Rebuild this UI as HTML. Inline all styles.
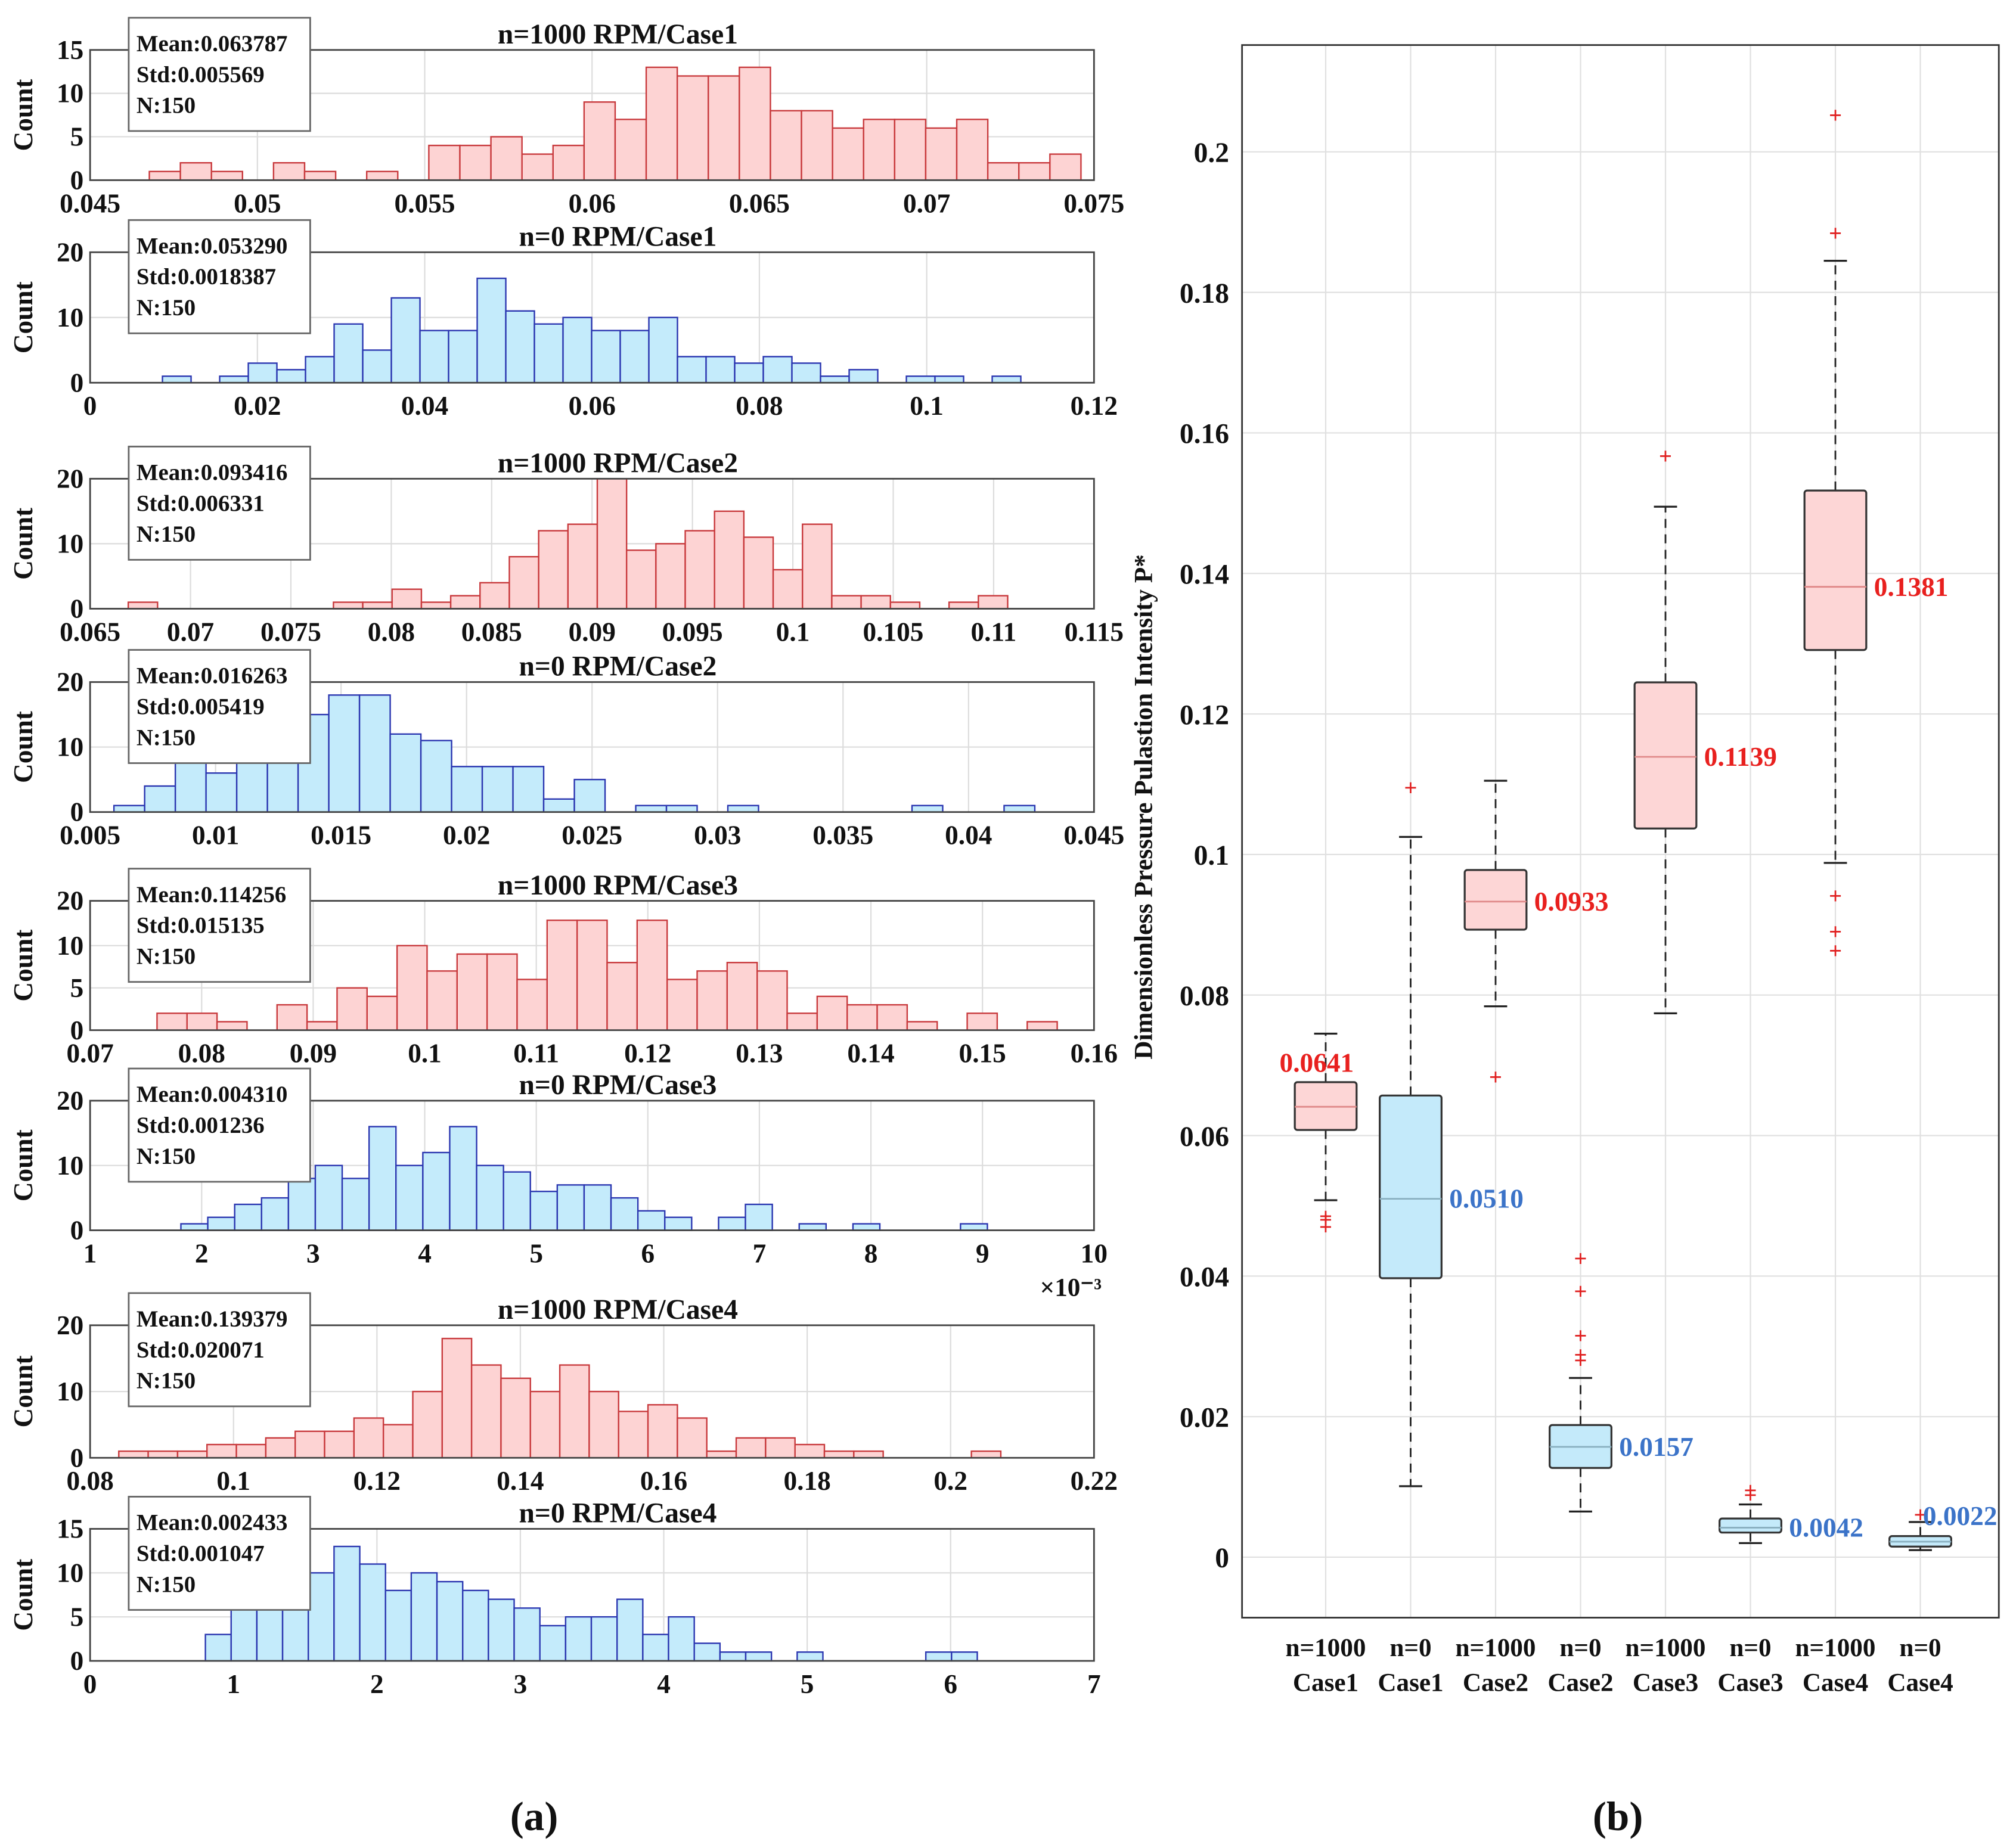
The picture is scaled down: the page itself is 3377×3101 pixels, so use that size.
<!DOCTYPE html>
<html><head><meta charset="utf-8"><style>
html,body{margin:0;padding:0;background:#fff}
svg{display:block}
text{font-family:"Liberation Serif",serif;font-weight:bold}
text:not([fill]){fill:#111}
</style></head><body>
<svg id="fig" width="3377" height="3101" viewBox="0 0 1564 1436" preserveAspectRatio="none" xmlns="http://www.w3.org/2000/svg">
<rect width="1564" height="1436" fill="#fff"/>
<g id="hists"></g>
<g id="box"></g>
<text x="415" y="1422" font-size="32" text-anchor="middle" font-weight="normal">(<tspan font-weight="bold">a</tspan>)</text>
<text x="1257" y="1422" font-size="32" text-anchor="middle" font-weight="normal">(<tspan font-weight="bold">b</tspan>)</text>
</svg>
<script>
// ---- histogram data ----
const titles=["n=1000 RPM/Case1","n=0 RPM/Case1","n=1000 RPM/Case2","n=0 RPM/Case2","n=1000 RPM/Case3","n=0 RPM/Case3","n=1000 RPM/Case4","n=0 RPM/Case4"];
const statMeans=["0.063787","0.053290","0.093416","0.016263","0.114256","0.004310","0.139379","0.002433"];
const statStds=["0.005569","0.0018387","0.006331","0.005419","0.015135","0.001236","0.020071","0.001047"];
const statN=["150","150","150","150","150","150","150","150"];
const counts1=[1,2,1,0,2,1,0,1,0,4,4,5,3,4,9,7,13,12,12,13,8,8,6,7,7,6,7,2,2,3];
const counts2=[1,0,1,3,2,4,9,5,13,8,8,16,11,9,10,8,8,10,4,4,3,4,3,1,2,0,1,1,0,1];
const counts3=[1,0,0,0,0,0,0,1,1,3,1,2,4,8,12,13,20,9,10,12,15,11,6,13,2,2,1,0,1,2];
const counts4=[1,4,10,6,11,11,15,18,18,12,11,7,7,7,2,5,0,1,1,0,1,0,0,0,0,0,1,0,0,1];
const counts5=[2,2,1,0,3,1,5,4,10,7,9,9,6,13,13,8,13,6,7,8,7,2,4,3,3,1,0,2,0,1];
const counts6=[1,2,4,5,8,10,8,16,10,12,16,10,9,6,7,7,5,3,2,0,2,4,0,1,0,1,0,0,0,1];
const counts7=[1,1,1,2,2,3,4,4,6,5,10,18,14,12,10,14,10,7,8,6,1,3,3,2,1,1,0,0,0,1];
const counts8=[3,9,10,10,10,13,11,8,10,9,8,7,6,4,5,5,7,3,5,2,1,1,0,1,0,0,0,0,1,1];
const binStarts=[0.04677,0.00865,0.0669,0.00595,0.076,1.814,0.084,0.804];
const binWidths=[0.000928,0.00342,0.00146,0.001223,0.00269,0.241,0.0041,0.1794];
const xMins=[0.045,0,0.065,0.005,0.07,1,0.08,0];
const xMaxs=[0.075,0.12,0.115,0.045,0.16,10,0.22,7];
const xTicks1=["0.045","0.05","0.055","0.06","0.065","0.07","0.075"];
const xTicks2=["0","0.02","0.04","0.06","0.08","0.1","0.12"];
const xTicks3=["0.065","0.07","0.075","0.08","0.085","0.09","0.095","0.1","0.105","0.11","0.115"];
const xTicks4=["0.005","0.01","0.015","0.02","0.025","0.03","0.035","0.04","0.045"];
const xTicks5=["0.07","0.08","0.09","0.1","0.11","0.12","0.13","0.14","0.15","0.16"];
const xTicks6=["1","2","3","4","5","6","7","8","9","10"];
const xTicks7=["0.08","0.1","0.12","0.14","0.16","0.18","0.2","0.22"];
const xTicks8=["0","1","2","3","4","5","6","7"];
const yMaxs=[15,20,20,20,15.3,20,20,15];
const yTickVals1=[0,5,10,15],yTickVals2=[0,10,20],yTickVals5=[0,5,10,15.3];
const yTickLabs1=["0","5","10","15"],yTickLabs2=["0","10","20"],yTickLabs5=["0","5","10","20"];
const allCounts=[counts1,counts2,counts3,counts4,counts5,counts6,counts7,counts8];
const allXT=[xTicks1,xTicks2,xTicks3,xTicks4,xTicks5,xTicks6,xTicks7,xTicks8];
const allYV=[yTickVals1,yTickVals2,yTickVals2,yTickVals2,yTickVals5,yTickVals2,yTickVals2,yTickVals1];
const allYL=[yTickLabs1,yTickLabs2,yTickLabs2,yTickLabs2,yTickLabs5,yTickLabs2,yTickLabs2,yTickLabs1];
const panelTops=[38.8,196,372,530,700,855.3,1029.8,1188];
const panelBots=[140,297.4,473,631,800.5,956,1132.8,1290.6];
const PL=70,PR=850;
const NS="http://www.w3.org/2000/svg";
function mk(tag,attrs,parent,txt){const e=document.createElementNS(NS,tag);for(const k in attrs)e.setAttribute(k,attrs[k]);if(txt!==undefined)e.textContent=txt;parent.appendChild(e);return e;}
const H=document.getElementById('hists');
for(let p=0;p<8;p++){
  const g=mk('g',{},H);
  
  
  const top=panelTops[p],bot=panelBots[p];
  const sx=v=>PL+(v-xMins[p])/(xMaxs[p]-xMins[p])*(PR-PL);
  const sy=v=>bot-v/yMaxs[p]*(bot-top);
  const red=p%2===0;
  allXT[p].forEach(t=>{const x=sx(parseFloat(t));const l=mk('line',{x1:x,x2:x,y1:top,y2:bot,stroke:'#dcdcdc','stroke-width':1},g);
    });
  allYV[p].forEach(v=>{const y=sy(v);const l=mk('line',{x1:PL,x2:PR,y1:y,y2:y,stroke:'#dcdcdc','stroke-width':1},g);
    });
  allCounts[p].forEach((c,i)=>{if(c<=0)return;const x0=sx(binStarts[p]+i*binWidths[p]),x1=sx(binStarts[p]+(i+1)*binWidths[p]);
    const r=mk('rect',{x:x0,y:sy(c),width:x1-x0,height:bot-sy(c),fill:red?'#fdd3d3':'#c4ebfb',stroke:red?'#c8393c':'#2a35b0','stroke-width':1.1},g);
    });
  const f=mk('rect',{x:PL,y:top,width:PR-PL,height:bot-top,fill:'none',stroke:'#444','stroke-width':1.3},g);
  
  allXT[p].forEach(t=>{const tx=mk('text',{x:sx(parseFloat(t)),y:bot+25,'font-size':21,'text-anchor':'middle'},g,t);
    });
  allYV[p].forEach((v,i)=>{const tx=mk('text',{x:PL-5,y:sy(v)+7,'font-size':21,'text-anchor':'end'},g,allYL[p][i]);
    });
  const cy=(top+bot)/2;
  const yt=mk('text',{x:0,y:0,'font-size':21,'text-anchor':'middle',transform:`translate(25,${cy}) rotate(-90)`},g,'Count');
  
  const tt=mk('text',{x:480,y:top-5,'font-size':22,'text-anchor':'middle'},g,titles[p]);
  
  const bg=mk('g',{},g);
  
  mk('rect',{x:100,y:top-25,width:141,height:88,fill:'#fff',stroke:'#666','stroke-width':1.3},bg);
  mk('text',{x:106,y:top+1,'font-size':18},bg,'Mean:'+statMeans[p]);
  mk('text',{x:106,y:top+25,'font-size':18},bg,'Std:'+statStds[p]);
  mk('text',{x:106,y:top+49,'font-size':18},bg,'N:'+statN[p]);
  if(p===5){const e=mk('text',{x:808,y:1007,'font-size':20,'font-weight':'normal'},g,'×10⁻³');
    }
}

// ---- boxplot data ----
const boxCats1=["n=1000","n=0","n=1000","n=0","n=1000","n=0","n=1000","n=0"];
const boxCats2=["Case1","Case1","Case2","Case2","Case3","Case3","Case4","Case4"];
const q1s=[0.0608,0.0397,0.0893,0.0127,0.1037,0.0035,0.1291,0.0015];
const q3s=[0.0676,0.0657,0.0978,0.0188,0.1245,0.0055,0.1518,0.0030];
const medians=[0.0641,0.0510,0.0933,0.0157,0.1139,0.0042,0.1381,0.0022];
const whiskLo=[0.0508,0.0101,0.0784,0.0065,0.0774,0.0020,0.0988,0.0010];
const whiskHi=[0.0745,0.1025,0.1105,0.0255,0.1495,0.0075,0.1845,0.0050];
const outliers=[[0.0485,0.0480,0.0470],[0.1095],[0.0683],[0.0425,0.0378,0.0315,0.0288,0.0280],[0.1567],[0.0088,0.0095],[0.2052,0.1884,0.0941,0.0890,0.0863],[0.0060]];
const medLabels=["0.0641","0.0510","0.0933","0.0157","0.1139","0.0042","0.1381","0.0022"];
const bTicks=[0,0.02,0.04,0.06,0.08,0.1,0.12,0.14,0.16,0.18,0.2];
const bTickLabs=["0","0.02","0.04","0.06","0.08","0.1","0.12","0.14","0.16","0.18","0.2"];
const B=document.getElementById('box');
const BL=965,BR=1553,BT=35,BB=1257;
const by=v=>1210-v*5460;
const bx=i=>1030+i*66;
bTicks.forEach((v,i)=>{const l=mk('line',{x1:BL,x2:BR,y1:by(v),y2:by(v),stroke:'#e0e0e0','stroke-width':1},B);
  
  const t=mk('text',{x:BL-10,y:by(v)+8,'font-size':22,'text-anchor':'end'},B,bTickLabs[i]);
  });
boxCats1.forEach((c,i)=>{const x=bx(i);
  const l=mk('line',{x1:x,x2:x,y1:BT,y2:BB,stroke:'#e0e0e0','stroke-width':1},B);
  
  const t1=mk('text',{x:x,y:1287,'font-size':20,'text-anchor':'middle'},B,c);
  
  const t2=mk('text',{x:x,y:1314,'font-size':20,'text-anchor':'middle'},B,boxCats2[i]);
  });
const fr=mk('rect',{x:BL,y:BT,width:BR-BL,height:BB-BT,fill:'none',stroke:'#333','stroke-width':1.3},B);

boxCats1.forEach((c,i)=>{
  const red=i%2===0,x=bx(i),w=24;
  const g=mk('g',{},B);
  
  mk('line',{x1:x,x2:x,y1:by(q3s[i]),y2:by(whiskHi[i]),stroke:'#222','stroke-width':1.3,'stroke-dasharray':'7,5'},g);
  mk('line',{x1:x,x2:x,y1:by(q1s[i]),y2:by(whiskLo[i]),stroke:'#222','stroke-width':1.3,'stroke-dasharray':'7,5'},g);
  mk('line',{x1:x-9,x2:x+9,y1:by(whiskHi[i]),y2:by(whiskHi[i]),stroke:'#222','stroke-width':1.5},g);
  mk('line',{x1:x-9,x2:x+9,y1:by(whiskLo[i]),y2:by(whiskLo[i]),stroke:'#222','stroke-width':1.5},g);
  mk('rect',{x:x-w,y:by(q3s[i]),width:2*w,height:by(q1s[i])-by(q3s[i]),fill:red?'#fdd6d6':'#c4eafa',stroke:'#333','stroke-width':1.5,rx:2},g);
  mk('line',{x1:x-w,x2:x+w,y1:by(medians[i]),y2:by(medians[i]),stroke:red?'#e08a8a':'#8ab0c0','stroke-width':1.3},g);
  outliers[i].forEach(o=>{mk('text',{x:x,y:by(o)+6,'font-size':18,'text-anchor':'middle',fill:'#e02020','font-weight':'normal'},g,'+');});
  let lx=x+w+6,ly=by(medians[i])+7,anchor='start';
  if(i===0){lx=x-7;ly=by(q3s[i])-8;anchor='middle';}
  if(i===7){lx=x+2;ly=by(medians[i])-13;}
  const t=mk('text',{x:lx,y:ly,'font-size':21,'text-anchor':anchor,fill:red?'#e8201e':'#3b73c8'},g,medLabels[i]);
  
});
const yt=mk('text',{x:0,y:0,'font-size':20,'text-anchor':'middle',transform:'translate(895,627) rotate(-90)'},B,'Dimensionless Pressure Pulastion Intensity P*');

</script>
</body></html>
